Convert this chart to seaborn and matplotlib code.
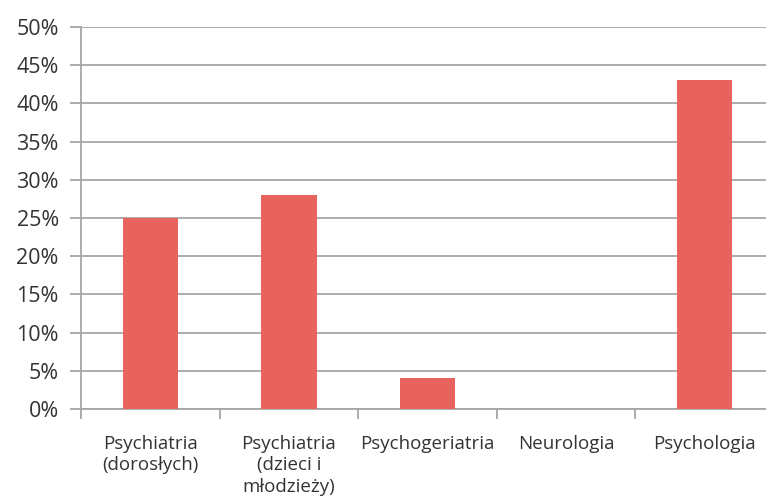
import matplotlib
matplotlib.use("Agg")
import matplotlib.pyplot as plt
import seaborn as sns
import pandas as pd
from matplotlib.ticker import PercentFormatter, FixedLocator

categories = ["Psychiatria\n(dorosłych)", "Psychiatria\n(dzieci i\nmłodzieży)",
              "Psychogeriatria", "Neurologia", "Psychologia"]
values = [25, 28, 4, 0, 43]
y_ticks = list(range(0, 51, 5))

sns.set_style("white")
plt.rcParams["font.family"] = ["Open Sans", "DejaVu Sans"]

df = pd.DataFrame({"kategoria": categories, "udzial": values})

fig = plt.figure(figsize=(7.66, 5.0), dpi=100)
ax = fig.add_axes([81 / 766, 1 - 409 / 500, (774 - 81) / 766, (409 - 27) / 500])

sns.barplot(data=df, x="kategoria", y="udzial", order=categories, color="#E8625E",
            saturation=1, width=0.40, linewidth=0, ax=ax, zorder=3)

grid_c = "#A6A6A6"
text_c = "#333333"
ax.set_ylim(0, 50)
ax.set_xlim(-0.5, len(categories) - 0.5)
ax.set_yticks(y_ticks)
ax.yaxis.set_major_formatter(PercentFormatter(decimals=0))
ax.yaxis.grid(True, color=grid_c, linewidth=1.3, zorder=0)
ax.set_axisbelow(True)

ax.set_xlabel("")
ax.set_ylabel("")
for s in ["top", "right"]:
    ax.spines[s].set_visible(False)
for s in ["left", "bottom"]:
    ax.spines[s].set_color(grid_c)
    ax.spines[s].set_linewidth(1.3)

ax.tick_params(axis="y", which="major", left=True, length=8, width=1.3, color=grid_c,
               labelsize=15.5, labelcolor=text_c, pad=8)
ax.tick_params(axis="x", which="major", bottom=False, labelsize=13.5,
               labelcolor=text_c, pad=15)
ax.xaxis.set_minor_locator(FixedLocator([i - 0.5 for i in range(len(categories) + 1)]))
ax.tick_params(axis="x", which="minor", bottom=True, length=7, width=1.3, color=grid_c)
for lbl in ax.get_xticklabels():
    lbl.set_linespacing(1.25)

fig.savefig("out.png", dpi=100)
